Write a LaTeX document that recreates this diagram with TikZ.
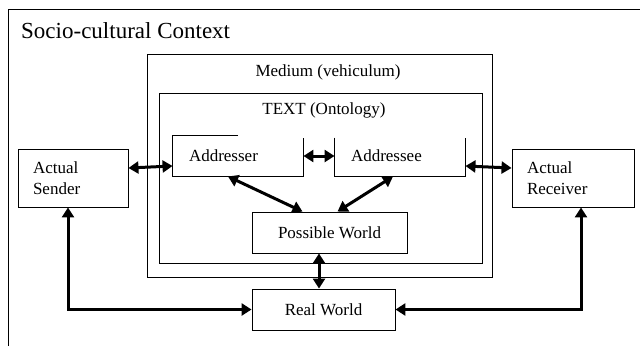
\documentclass[tikz,border=0pt]{standalone}
\usepackage{fontspec}
\setmainfont{Liberation Serif}
\usetikzlibrary{arrows.meta}

\begin{document}
\begin{tikzpicture}[x=1pt, y=-1pt,
  box/.style={line width=0.9pt, inner sep=0pt, font=\fontsize{17}{21}\selectfont},
  link/.style={line width=3pt, {Triangle[length=10pt,width=12pt]}-{Triangle[length=10pt,width=12pt]}}]
\useasboundingbox (0,0) rectangle (640,346);
% socio-cultural frame (open at right and bottom)
\draw[line width=0.9pt] (8,346) -- (8,9) -- (640,9);
\node[anchor=base west, inner sep=0pt, font=\fontsize{23}{27}\selectfont] (socio) at (21,38) {Socio-cultural Context};
% medium and text frames
\draw[box] (147,54) rectangle (492,277);
\node[box] (medium) at (328,72) {Medium (vehiculum)};
\draw[box] (159,93) rectangle (482,263);
\node[box] (ontology) at (324,110) {TEXT (Ontology)};
% participants
\node[box, draw, minimum width=110pt, minimum height=58pt, text width=80pt, align=left] (sender) at (73,178) {Actual\\Sender};
\node[box, draw, minimum width=122pt, minimum height=58pt, text width=92pt, align=left] (receiver) at (573,178) {Actual\\Receiver};
\node[box, minimum width=130pt, minimum height=40pt, text width=98pt, align=left, yshift=1pt] (addresser) at (238,157) {Addresser};
\node[box, minimum width=130pt, minimum height=40pt, text width=98pt, align=left, yshift=1pt] (addressee) at (400,157) {Addressee};
\draw[box] (addresser.north) -- (addresser.north west) -- (addresser.south west) -- (addresser.south east) -- ([yshift=-2pt]addresser.north east);
\draw[box] ([yshift=-2pt]addressee.north west) -- (addressee.south west) -- (addressee.south east) -- ([yshift=-2pt]addressee.north east);
% worlds
\node[box, draw, minimum width=155pt, minimum height=41pt] (possible) at (329.5,232.5) {Possible World};
\node[box, draw, minimum width=143pt, minimum height=41pt] (real) at (323.5,309.5) {Real World};
% connectors
\draw[link] ([yshift=10pt]sender.east) -- ([yshift=-10pt]addresser.west);
\draw[link] (addresser.east) -- (addressee.west);
\draw[link] ([yshift=-10pt]addressee.east) -- ([yshift=10pt]receiver.west);
\draw[link] ([xshift=-10pt]addresser.south) -- ([xshift=-27pt]possible.north);
\draw[link] ([xshift=-7pt]addressee.south) -- ([xshift=8pt]possible.north);
\draw[link] ([xshift=-10.5pt]possible.south) -- ([xshift=-10.5pt]possible.south |- real.north);
\draw[link] ([xshift=-5pt]sender.south) |- (real.west);
\draw[link] ([xshift=8pt]receiver.south) |- (real.east);
\end{tikzpicture}
\end{document}
